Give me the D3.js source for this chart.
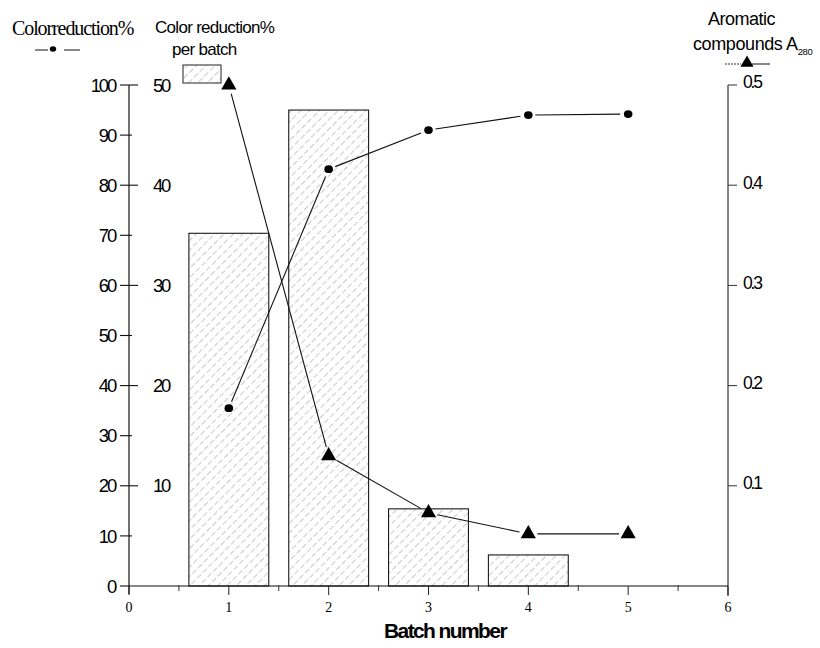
<!DOCTYPE html>
<html>
<head>
<meta charset="utf-8">
<script src="https://cdn.jsdelivr.net/npm/d3@7"></script>
<style>
  html, body { margin: 0; padding: 0; background: #fff; }
  svg { display: block; }
  .sans { font-family: "Liberation Sans", Arial, sans-serif; }
  .serif { font-family: "Liberation Serif", "Times New Roman", serif; }
</style>
</head>
<body>
<svg id="chart" width="820" height="648"></svg>
<script>
// Batch numbers on the x axis
const batches = [1, 2, 3, 4, 5];
// Cumulative colour reduction (%), left axis
const colorReduction = [35.5, 83.2, 91.0, 94.0, 94.2];
// Colour reduction achieved in each batch (%), inner axis (bars; batch 5 has none)
const perBatchBatches = [1, 2, 3, 4];
const perBatch = [35.2, 47.5, 7.7, 3.1];
// Aromatic compounds, absorbance at 280 nm, right axis
const aromatic = [0.5, 0.13, 0.073, 0.052, 0.052];

const xTicks = [0, 1, 2, 3, 4, 5, 6];
const leftTicks = [0, 10, 20, 30, 40, 50, 60, 70, 80, 90, 100];
const midTicks = [10, 20, 30, 40, 50];
const rightTicks = [0.1, 0.2, 0.3, 0.4, 0.5];

const svg = d3.select("#chart");

const x = d3.scaleLinear().domain([0, 6]).range([129, 728]);
const yLeft = d3.scaleLinear().domain([0, 100]).range([586, 85]);
const yMid = d3.scaleLinear().domain([0, 50]).range([586, 85]);
const yRight = d3.scaleLinear().domain([0, 0.5]).range([586, 85]);

// Diagonal hatch for the bars
const defs = svg.append("defs");
const pat = defs.append("pattern")
  .attr("id", "hatch")
  .attr("patternUnits", "userSpaceOnUse")
  .attr("width", 6.6).attr("height", 8)
  .attr("patternTransform", "rotate(45)");
pat.append("line")
  .attr("x1", 0).attr("y1", 0).attr("x2", 0).attr("y2", 8)
  .attr("stroke", "#858585").attr("stroke-width", 0.9)
  .attr("stroke-dasharray", "5.5 2.5");

// Bars: colour reduction per batch
const barW = x(0.8) - x(0);
svg.append("g").selectAll("rect")
  .data(perBatch)
  .join("rect")
  .attr("x", (d, i) => x(perBatchBatches[i]) - barW / 2)
  .attr("y", d => yMid(d))
  .attr("width", barW)
  .attr("height", d => yMid(0) - yMid(d))
  .attr("fill", "url(#hatch)")
  .attr("stroke", "#1a1a1a")
  .attr("stroke-width", 1.1);

// Left axis (0-100)
const gL = svg.append("g").attr("transform", `translate(${x(0)},0)`);
gL.append("line").attr("x1", 0).attr("x2", 0)
  .attr("y1", yLeft(0) + 8).attr("y2", yLeft(100)).attr("stroke", "#111").attr("stroke-width", 1.2);
gL.selectAll("line.t").data(leftTicks).join("line")
  .attr("class", "t")
  .attr("x1", -9)
  .attr("x2", d => (d % 20 === 0 && d > 0) ? 9 : (d === 0 ? 0 : 3))
  .attr("y1", d => yLeft(d)).attr("y2", d => yLeft(d))
  .attr("stroke", "#111").attr("stroke-width", 1.1);
gL.selectAll("text").data(leftTicks).join("text")
  .attr("class", "sans")
  .attr("x", -14).attr("y", d => yLeft(d)).attr("dy", "0.36em")
  .attr("text-anchor", "end")
  .attr("font-size", 18.5).attr("letter-spacing", -2.2)
  .text(d => d);

// Inner axis labels (0-50)
svg.append("g").selectAll("text").data(midTicks).join("text")
  .attr("class", "sans")
  .attr("x", 153).attr("y", d => yMid(d)).attr("dy", "0.36em")
  .attr("font-size", 18.5).attr("letter-spacing", -2.2)
  .text(d => d);

// Right axis (absorbance)
const gR = svg.append("g").attr("transform", `translate(${x(6)},0)`);
gR.append("line").attr("x1", 0).attr("x2", 0)
  .attr("y1", yRight(0) + 10).attr("y2", yRight(0.5)).attr("stroke", "#333").attr("stroke-width", 1.2);
gR.selectAll("line.t").data(rightTicks).join("line")
  .attr("class", "t")
  .attr("x1", 0).attr("x2", 9)
  .attr("y1", d => yRight(d)).attr("y2", d => yRight(d))
  .attr("stroke", "#333").attr("stroke-width", 1);
gR.selectAll("text").data(rightTicks).join("text")
  .attr("class", "sans")
  .attr("x", 15).attr("y", d => yRight(d) - 3).attr("dy", "0.36em")
  .attr("font-size", 17.5).attr("letter-spacing", -2.2)
  .text(d => d3.format(".1f")(d));

// Bottom axis
const gB = svg.append("g");
gB.append("line").attr("x1", x(0)).attr("x2", x(6))
  .attr("y1", yLeft(0)).attr("y2", yLeft(0)).attr("stroke", "#111").attr("stroke-width", 1.2);
gB.selectAll("line.maj").data(xTicks).join("line")
  .attr("class", "maj")
  .attr("x1", d => x(d)).attr("x2", d => x(d))
  .attr("y1", yLeft(0)).attr("y2", yLeft(0) + 9)
  .attr("stroke", "#222").attr("stroke-width", 1);
gB.selectAll("line.min").data(d3.range(0.5, 6, 1)).join("line")
  .attr("class", "min")
  .attr("x1", d => x(d)).attr("x2", d => x(d))
  .attr("y1", yLeft(0) - 1).attr("y2", yLeft(0) + 5)
  .attr("stroke", "#333").attr("stroke-width", 1);
gB.selectAll("text").data(xTicks).join("text")
  .attr("class", "serif")
  .attr("x", d => x(d)).attr("y", 612)
  .attr("text-anchor", "middle")
  .attr("font-size", 14)
  .text(d => d);

svg.append("text")
  .attr("class", "sans")
  .attr("x", 445).attr("y", 638)
  .attr("text-anchor", "middle")
  .attr("font-size", 21).attr("font-weight", "bold").attr("letter-spacing", -1.6)
  .text("Batch number");

// Segmented line that stops short of each marker
function gappedSegments(points, gapA, gapB) {
  const segs = [];
  for (let i = 0; i < points.length - 1; i++) {
    const [x1, y1] = points[i], [x2, y2] = points[i + 1];
    const len = Math.hypot(x2 - x1, y2 - y1);
    const ux = (x2 - x1) / len, uy = (y2 - y1) / len;
    segs.push([x1 + ux * gapA, y1 + uy * gapA, x2 - ux * gapB, y2 - uy * gapB]);
  }
  return segs;
}

// Cumulative colour reduction: line + dots
const crPts = batches.map((b, i) => [x(b), yLeft(colorReduction[i])]);
svg.append("g").selectAll("line").data(gappedSegments(crPts, 7, 8)).join("line")
  .attr("x1", d => d[0]).attr("y1", d => d[1]).attr("x2", d => d[2]).attr("y2", d => d[3])
  .attr("stroke", "#111").attr("stroke-width", 1.1);
svg.append("g").selectAll("ellipse").data(crPts).join("ellipse")
  .attr("cx", d => d[0]).attr("cy", d => d[1])
  .attr("rx", 4.3).attr("ry", 3.9)
  .attr("fill", "#000");

// Aromatic compounds: line + triangles
const arPts = batches.map((b, i) => [x(b), yRight(aromatic[i])]);
svg.append("g").selectAll("line").data(gappedSegments(arPts, 9, 9)).join("line")
  .attr("x1", d => d[0]).attr("y1", d => d[1]).attr("x2", d => d[2]).attr("y2", d => d[3])
  .attr("stroke", "#111").attr("stroke-width", 1.1);
const tri = d3.symbol().type(d3.symbolTriangle).size(100);
svg.append("g").selectAll("path").data(arPts).join("path")
  .attr("transform", d => `translate(${d[0]},${d[1]})`)
  .attr("d", tri)
  .attr("fill", "#000");

// Legends / axis titles
svg.append("text").attr("class", "serif")
  .attr("x", 12).attr("y", 35)
  .attr("font-size", 20).attr("letter-spacing", -1.1)
  .text("Colorreduction%");
const lg1 = svg.append("g");
lg1.append("line").attr("x1", 35).attr("x2", 48).attr("y1", 50).attr("y2", 50).attr("stroke", "#111");
lg1.append("line").attr("x1", 64).attr("x2", 80).attr("y1", 50).attr("y2", 50).attr("stroke", "#111");
lg1.append("ellipse").attr("cx", 53).attr("cy", 49).attr("rx", 3.2).attr("ry", 2.8).attr("fill", "#000");

svg.append("text").attr("class", "sans")
  .attr("x", 155).attr("y", 33)
  .attr("font-size", 17).attr("letter-spacing", -0.7)
  .text("Color reduction%");
svg.append("text").attr("class", "sans")
  .attr("x", 172).attr("y", 55)
  .attr("font-size", 17).attr("letter-spacing", -0.7)
  .text("per batch");
svg.append("rect")
  .attr("x", 183).attr("y", 65).attr("width", 38).attr("height", 18)
  .attr("fill", "url(#hatch)").attr("stroke", "#222").attr("stroke-width", 1);

svg.append("text").attr("class", "sans")
  .attr("x", 708).attr("y", 25)
  .attr("font-size", 18).attr("letter-spacing", -0.5)
  .text("Aromatic");
const t2 = svg.append("text").attr("class", "sans")
  .attr("x", 693).attr("y", 50)
  .attr("font-size", 18).attr("letter-spacing", -0.4);
t2.append("tspan").text("compounds A");
t2.append("tspan").attr("font-size", 9.5).attr("dy", 5).text("280");

const lg3 = svg.append("g");
lg3.append("line").attr("x1", 725).attr("x2", 741).attr("y1", 64).attr("y2", 64)
  .attr("stroke", "#333").attr("stroke-dasharray", "2 1");
lg3.append("line").attr("x1", 752).attr("x2", 770).attr("y1", 64).attr("y2", 64).attr("stroke", "#111");
lg3.append("path").attr("transform", "translate(747,63)")
  .attr("d", d3.symbol().type(d3.symbolTriangle).size(75)).attr("fill", "#000");
</script>
</body>
</html>
